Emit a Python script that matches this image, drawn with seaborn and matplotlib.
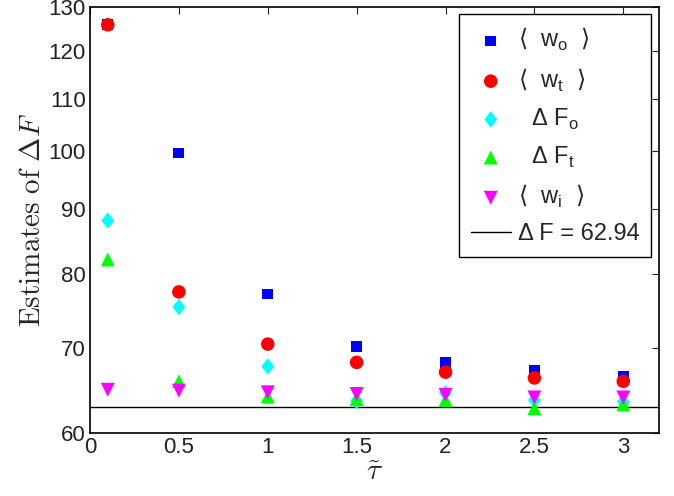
import matplotlib
matplotlib.use("Agg")
import matplotlib.pyplot as plt
from matplotlib.font_manager import FontProperties
import pandas as pd
import seaborn as sns

# values
tau = [0.1, 0.5, 1.0, 1.5, 2.0, 2.5, 3.0]
w_o = [125.8, 99.7, 77.2, 70.2, 68.2, 67.2, 66.5]
w_t = [125.8, 77.5, 70.5, 68.2, 67.0, 66.3, 65.9]
dF_o = [88.2, 75.4, 67.7, 63.6, 64.5, 63.7, 63.5]
dF_t = [82.2, 65.9, 64.1, 63.8, 63.7, 62.75, 63.2]
w_i = [64.9, 64.8, 64.6, 64.4, 64.3, 64.0, 64.0]
dF_true = 62.94

diamond = [(0, 1), (0.78, 0), (0, -1), (-0.78, 0), (0, 1)]

series = [
    (r"$\langle$  w$_\mathregular{o}$  $\rangle$", w_o, "s", "#0000ff", 60),
    (r"$\langle$  w$_\mathregular{t}$  $\rangle$", w_t, "o", "#ff0000", 95),
    (r"  Δ F$_\mathregular{o}$", dF_o, diamond, "#00ffff", 140),
    (r"  Δ F$_\mathregular{t}$", dF_t, "^", "#00ff00", 100),
    (r"$\langle$  w$_\mathregular{i}$  $\rangle$", w_i, "v", "#ff00ff", 100),
]

sns.set_style("white")
plt.rcParams["font.family"] = ["Liberation Sans", "DejaVu Sans"]
plt.rcParams["mathtext.fontset"] = "cm"

fig = plt.figure(figsize=(6.74, 4.96), dpi=100)
ax = fig.add_axes([0.1335, 0.127, 0.844, 0.8595])

for name, vals, mk, col, sz in series:
    df = pd.DataFrame({"tau": tau, "val": vals})
    sns.scatterplot(data=df, x="tau", y="val", marker=mk, color=col, s=sz,
                    edgecolor="none", linewidth=0, label=name, ax=ax, zorder=3)

ax.axhline(dF_true, color="black", lw=1, label="Δ F = 62.94", zorder=2)

ax.set_yscale("log")
ax.set_xlim(0, 3.2)
ax.set_ylim(60, 130)
yt = [60, 70, 80, 90, 100, 110, 120, 130]
ax.set_yticks(yt)
ax.set_yticklabels([str(v) for v in yt])
ax.minorticks_off()
ax.set_xticks([0, 0.5, 1, 1.5, 2, 2.5, 3])
ax.set_xticklabels(["0", "0.5", "1", "1.5", "2", "2.5", "3"])
ax.tick_params(direction="in", length=5, width=0.8, top=True, right=True,
               labelsize=16, colors="#222222", labelcolor="#222222", pad=3)
for sp in ax.spines.values():
    sp.set_color("black")
    sp.set_linewidth(1.2)

ax.set_xlabel(r"$\tilde{\tau}$", fontsize=21, labelpad=0)
ax.set_ylabel(r"$\mathrm{Estimates\ of\ }\Delta F$", fontsize=21, labelpad=2)

leg = ax.legend(loc="upper right", bbox_to_anchor=(0.987, 0.982),
                prop=FontProperties(family="Liberation Sans", size=17,
                                    math_fontfamily="dejavusans"),
                frameon=True, fancybox=False, framealpha=1, edgecolor="black",
                borderaxespad=0, handlelength=1.7, handletextpad=0.3,
                labelspacing=0.55, borderpad=0.5)
leg.get_frame().set_linewidth(1.0)

fig.savefig("out.png", dpi=100)
